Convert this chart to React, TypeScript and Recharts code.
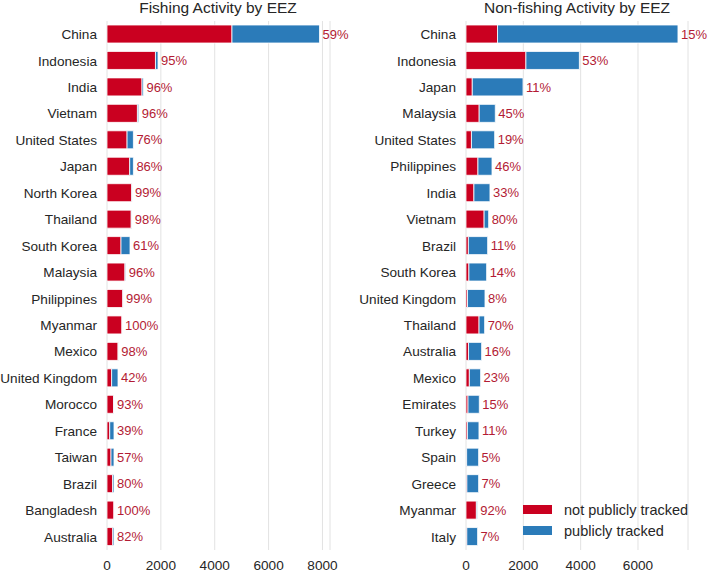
import React from 'react';
import { BarChart, Bar, XAxis, YAxis, CartesianGrid, LabelList, Legend } from 'recharts';

const fishCountries = ['China', 'Indonesia', 'India', 'Vietnam', 'United States', 'Japan', 'North Korea', 'Thailand', 'South Korea', 'Malaysia', 'Philippines', 'Myanmar', 'Mexico', 'United Kingdom', 'Morocco', 'France', 'Taiwan', 'Brazil', 'Bangladesh', 'Australia'];
const fishNotTracked = [4640, 1800, 1300, 1130, 745, 843, 921, 900, 520, 667, 590, 558, 413, 172, 242, 101, 148, 208, 260, 213];
const fishTracked = [3250, 95, 52, 48, 235, 137, 9, 18, 335, 28, 6, 2, 8, 237, 18, 159, 112, 52, 1, 47];
const fishPct = ['59%', '95%', '96%', '96%', '76%', '86%', '99%', '98%', '61%', '96%', '99%', '100%', '98%', '42%', '93%', '39%', '57%', '80%', '100%', '82%'];

const nonCountries = ['China', 'Indonesia', 'Japan', 'Malaysia', 'United States', 'Philippines', 'India', 'Vietnam', 'Brazil', 'South Korea', 'United Kingdom', 'Thailand', 'Australia', 'Mexico', 'Emirates', 'Turkey', 'Spain', 'Greece', 'Myanmar', 'Italy'];
const nonNotTracked = [1100, 2090, 219, 460, 190, 417, 276, 632, 83, 101, 53, 455, 87, 117, 70, 50, 22, 31, 362, 28];
const nonTracked = [6295, 1865, 1770, 562, 810, 490, 560, 158, 672, 619, 609, 195, 458, 393, 394, 402, 418, 409, 32, 377];
const nonPct = ['15%', '53%', '11%', '45%', '19%', '46%', '33%', '80%', '11%', '14%', '8%', '70%', '16%', '23%', '15%', '11%', '5%', '7%', '92%', '7%'];

const fishTicks = [0, 2000, 4000, 6000, 8000];
const nonTicks = [0, 2000, 4000, 6000];

const RED = '#ca0020';
const BLUE = '#2b7bb9';
const LABEL = '#b31b34';
const TEXT = '#262626';
const FONT = '"Liberation Sans", Arial, Helvetica, sans-serif';

const build = (names: string[], a: number[], b: number[], p: string[]) =>
  names.map((name, i) => ({ name, notTracked: a[i], tracked: b[i], pct: p[i] }));

const fishData = build(fishCountries, fishNotTracked, fishTracked, fishPct);
const nonData = build(nonCountries, nonNotTracked, nonTracked, nonPct);

const YTick = (props: any) => {
  const { x, y, payload } = props;
  return (
    <text x={x} y={y} dy="0.355em" textAnchor="end" fontSize={13.6} fill={TEXT} fontFamily={FONT}>
      {payload.value}
    </text>
  );
};

const LegendContent = () => (
  <div style={{ fontFamily: FONT, fontSize: 14.5, color: TEXT }}>
    {[{ c: RED, t: 'not publicly tracked' }, { c: BLUE, t: 'publicly tracked' }].map((r) => (
      <div key={r.t} style={{ display: 'flex', alignItems: 'center', height: 21, whiteSpace: 'nowrap' }}>
        <div style={{ width: 29, height: 9, background: r.c, marginRight: 12 }} />
        <span>{r.t}</span>
      </div>
    ))}
  </div>
);

type PanelProps = {
  data: any[];
  yWidth: number;
  rightMargin: number;
  domainMax: number;
  ticks: number[];
  legend?: boolean;
};

const Panel = ({ data, yWidth, rightMargin, domainMax, ticks, legend }: PanelProps) => (
  <BarChart
    width={354}
    height={573}
    data={data}
    layout="vertical"
    margin={{ top: 21, right: rightMargin, bottom: 0, left: 0 }}
    style={{ fontFamily: FONT }}
  >
    <CartesianGrid horizontal={false} vertical={true} stroke="#e2e2e2" strokeWidth={1} />
    <XAxis
      type="number"
      domain={[0, domainMax]}
      ticks={ticks}
      allowDataOverflow
      tickLine={false}
      axisLine={false}
      height={23}
      tickMargin={4}
      tick={{ fontSize: 13.6, fill: TEXT, fontFamily: FONT }}
    />
    <YAxis
      type="category"
      dataKey="name"
      width={yWidth}
      interval={0}
      tickLine={false}
      axisLine={false}
      tickMargin={4}
      tick={<YTick />}
    />
    <Bar dataKey="notTracked" name="not publicly tracked" stackId="s" fill={RED} stroke="#ffffff" strokeWidth={0.8} barSize={18} isAnimationActive={false} />
    <Bar dataKey="tracked" name="publicly tracked" stackId="s" fill={BLUE} stroke="#ffffff" strokeWidth={0.8} barSize={18} isAnimationActive={false}>
      <LabelList dataKey="pct" position="right" offset={3} fill={LABEL} fontSize={13} fontFamily={FONT} />
    </Bar>
    {legend && (
      <Legend
        layout="vertical"
        align="center"
        verticalAlign="middle"
        content={<LegendContent />}
        wrapperStyle={{ position: 'absolute', left: 169, top: 499, width: 185, height: 42 }}
      />
    )}
  </BarChart>
);

const titleStyle = (cx: number): React.CSSProperties => ({
  position: 'absolute',
  top: -1,
  left: cx - 150,
  width: 300,
  textAlign: 'center',
  fontFamily: FONT,
  fontSize: 15.5,
  color: TEXT,
  whiteSpace: 'nowrap',
});

export default function App() {
  return (
    <div style={{ position: 'absolute', left: 0, top: 0, width: 708, height: 573, background: '#fff', overflow: 'hidden' }}>
      <div style={{ position: 'absolute', left: 0, top: 0 }}>
        <Panel data={fishData} yWidth={107} rightMargin={24} domainMax={8280} ticks={fishTicks} />
      </div>
      <div style={{ position: 'absolute', left: 354, top: 0 }}>
        <Panel data={nonData} yWidth={112} rightMargin={20} domainMax={7745} ticks={nonTicks} legend />
      </div>
      <div style={titleStyle(218)}>Fishing Activity by EEZ</div>
      <div style={titleStyle(577)}>Non-fishing Activity by EEZ</div>
    </div>
  );
}
